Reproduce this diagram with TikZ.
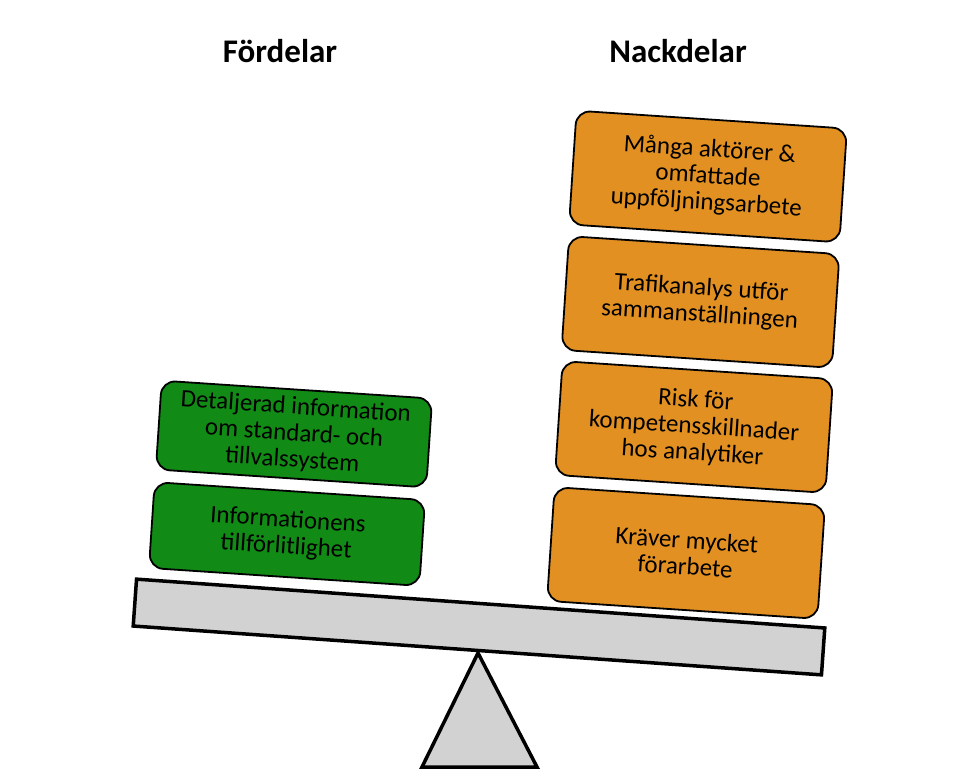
\documentclass[tikz,border=0pt]{standalone}
\usepackage{fontspec}
\setmainfont{Carlito}
\definecolor{proGreen}{RGB}{18,138,22}
\definecolor{conOrange}{RGB}{227,144,34}
\definecolor{beamGrey}{RGB}{210,210,210}
\begin{document}
\begin{tikzpicture}[x=1pt,y=-1pt,
  titletext/.style={anchor=base,font=\fontsize{33}{36}\selectfont\bfseries},
  card/.style={draw=black,line width=1.8pt,rounded corners=14pt,rotate=-3.8,
    minimum width=271pt,align=center,inner sep=0pt,
    font=\fontsize{25}{26.5}\selectfont},
  procard/.style={card,fill=proGreen},
  concard/.style={card,fill=conOrange,minimum height=114pt},
  beamstyle/.style={draw=black,line width=3.5pt,fill=beamGrey}]
\useasboundingbox (0,0) rectangle (958,770);
% fulcrum
\coordinate (apex) at (478,653);
\coordinate (bl) at (422,767);
\coordinate (br) at (537,767);
\draw[beamstyle,line join=miter] (apex) -- (br) -- (bl) -- cycle;
% beam
\node[beamstyle,rotate=-4.06,minimum width=690pt,minimum height=47pt,inner sep=0pt] (beam) at (479,627) {};
% titles
\node[titletext] (pro) at (280,63) {Fördelar};
\node[titletext] (con) at (678,63) {Nackdelar};
% pro cards
\node[procard,minimum height=86pt] (p1) at (287,534) {Informationens\\tillförlitlighet};
\node[procard,minimum height=89pt] (p2) at (294,434) {Detaljerad information\\om standard- och\\tillvalssystem};
% con cards
\node[concard] (c1) at (686,553) {Kräver mycket\\förarbete};
\node[concard] (c2) at (694,427) {Risk för\\kompetensskillnader\\hos analytiker};
\node[concard] (c3) at (700.5,302) {Trafikanalys utför\\sammanställningen};
\node[concard] (c4) at (708,176.5) {Många aktörer \&\\omfattade\\uppföljningsarbete};
\end{tikzpicture}
\end{document}
